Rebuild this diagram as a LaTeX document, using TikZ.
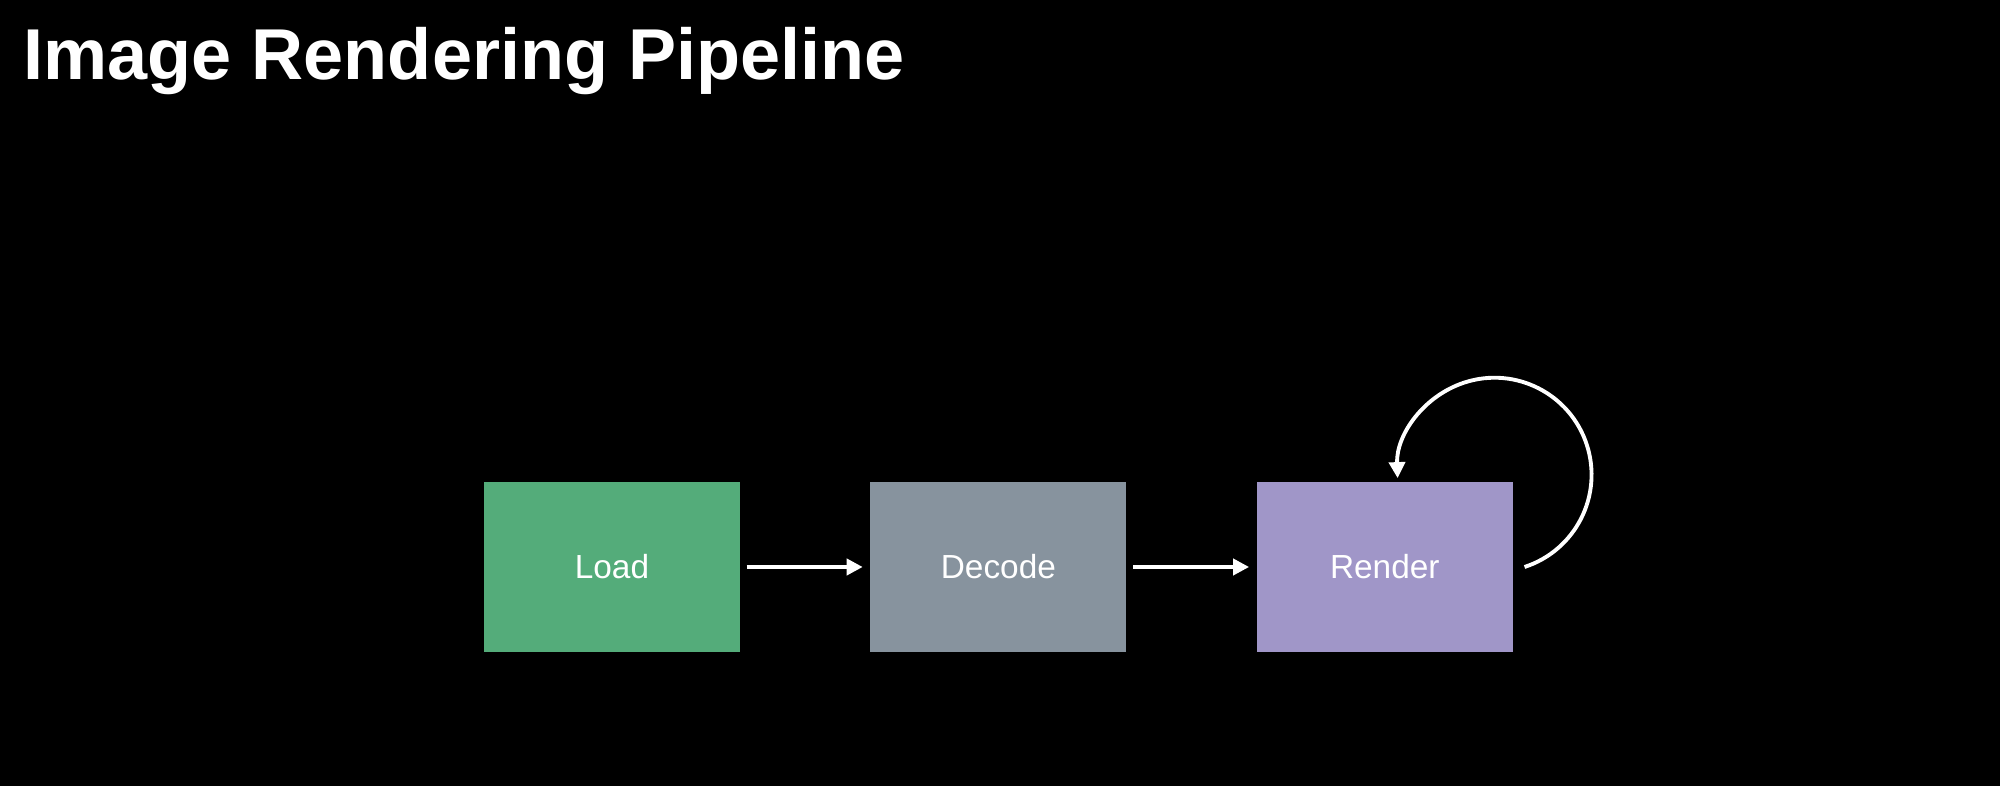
\documentclass[tikz,border=0pt]{standalone}
\usepackage{fontspec}
\setmainfont{Liberation Sans}
\usepackage{tikz}
\usetikzlibrary{arrows.meta,positioning}
\usepackage{xcolor}

\definecolor{loadgreen}{HTML}{54AC7A}
\definecolor{decodegray}{HTML}{87939E}
\definecolor{renderpurple}{HTML}{A096C8}

\begin{document}
\begin{tikzpicture}[
        stage/.style={minimum width=2.56cm, minimum height=1.70cm, inner sep=0pt,
            text=white, font=\fontsize{9.5}{11}\selectfont},
        flow/.style={white, line width=1.1pt, -{Triangle[length=0.16cm, width=0.16cm]}}
    ]
        % Background and title
        \fill[black] (0,0) rectangle (20,-7.86);
        \useasboundingbox (0,0) rectangle (20,-7.86);
        \node[anchor=base west, inner sep=0pt, text=white,
            font=\fontsize{20.5}{24}\bfseries\selectfont] (title) at (0.23,-0.80)
            {Image Rendering Pipeline};

        % The three stages
        \node[stage, fill=loadgreen] (load) at (6.12,-5.67) {Load};
        \node[stage, fill=decodegray, right=1.29cm of load] (decode) {Decode};
        \node[stage, fill=renderpurple, right=1.29cm of decode] (render) {Render};

        % Arrows between stages
        \draw[flow, shorten <=0.06cm, shorten >=0.07cm] (load) -- (decode);
        \draw[flow, shorten <=0.06cm, shorten >=0.07cm] (decode) -- (render);

        % Loop back into render
        \coordinate (loopstart) at ([xshift=0.11cm]render.east);
        \draw[flow] (loopstart) arc[start angle=-72, end angle=182, radius=0.97cm];

    \end{tikzpicture}
\end{document}
